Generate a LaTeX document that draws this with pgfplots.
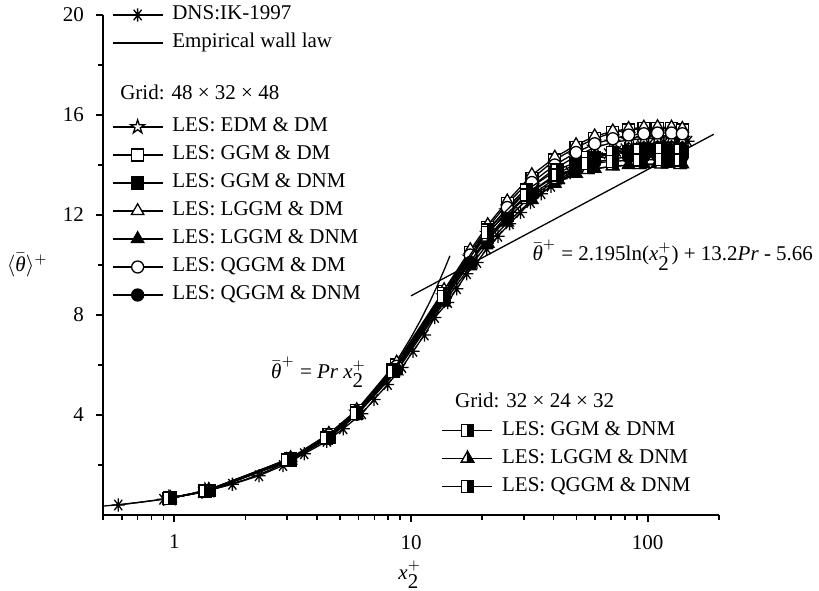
\documentclass[border=0pt]{standalone}
\usepackage{fontspec}
\setmainfont{Liberation Serif}
\usepackage{pgfplots}
\pgfplotsset{compat=1.18}
\usetikzlibrary{plotmarks}

\pgfdeclareplotmark{ast8}{%
 \pgfpathmoveto{\pgfqpoint{0pt}{\pgfplotmarksize}}\pgfpathlineto{\pgfqpoint{0pt}{-\pgfplotmarksize}}%
 \pgfpathmoveto{\pgfqpoint{.6\pgfplotmarksize}{.8\pgfplotmarksize}}\pgfpathlineto{\pgfqpoint{-.6\pgfplotmarksize}{-.8\pgfplotmarksize}}%
 \pgfpathmoveto{\pgfqpoint{-.6\pgfplotmarksize}{.8\pgfplotmarksize}}\pgfpathlineto{\pgfqpoint{.6\pgfplotmarksize}{-.8\pgfplotmarksize}}%
 \pgfpathmoveto{\pgfqpoint{-\pgfplotmarksize}{0pt}}\pgfpathlineto{\pgfqpoint{\pgfplotmarksize}{0pt}}%
 \pgfusepathqstroke}
\pgfdeclareplotmark{ostar}{%
 \pgfsetfillcolor{white}%
 \pgfpathmoveto{\pgfqpoint{0pt}{\pgfplotmarksize}}%
 \pgfpathlineto{\pgfqpoint{-.2245\pgfplotmarksize}{.309\pgfplotmarksize}}%
 \pgfpathlineto{\pgfqpoint{-.951\pgfplotmarksize}{.309\pgfplotmarksize}}%
 \pgfpathlineto{\pgfqpoint{-.363\pgfplotmarksize}{-.118\pgfplotmarksize}}%
 \pgfpathlineto{\pgfqpoint{-.588\pgfplotmarksize}{-.809\pgfplotmarksize}}%
 \pgfpathlineto{\pgfqpoint{0pt}{-.382\pgfplotmarksize}}%
 \pgfpathlineto{\pgfqpoint{.588\pgfplotmarksize}{-.809\pgfplotmarksize}}%
 \pgfpathlineto{\pgfqpoint{.363\pgfplotmarksize}{-.118\pgfplotmarksize}}%
 \pgfpathlineto{\pgfqpoint{.951\pgfplotmarksize}{.309\pgfplotmarksize}}%
 \pgfpathlineto{\pgfqpoint{.2245\pgfplotmarksize}{.309\pgfplotmarksize}}%
 \pgfpathclose\pgfusepath{fill,stroke}}
\pgfdeclareplotmark{halfsq}{%
 \pgfsetfillcolor{white}%
 \pgfpathrectangle{\pgfqpoint{-\pgfplotmarksize}{-\pgfplotmarksize}}{\pgfqpoint{2\pgfplotmarksize}{2\pgfplotmarksize}}%
 \pgfusepath{fill,stroke}%
 \pgfsetfillcolor{black}%
 \pgfpathrectangle{\pgfqpoint{0pt}{-\pgfplotmarksize}}{\pgfqpoint{\pgfplotmarksize}{2\pgfplotmarksize}}%
 \pgfusepath{fill,stroke}}
\pgfdeclareplotmark{halftri}{%
 \pgfsetfillcolor{white}%
 \pgfpathmoveto{\pgfqpoint{0pt}{\pgfplotmarksize}}%
 \pgfpathlineto{\pgfqpoint{-.866\pgfplotmarksize}{-.5\pgfplotmarksize}}%
 \pgfpathlineto{\pgfqpoint{.866\pgfplotmarksize}{-.5\pgfplotmarksize}}%
 \pgfpathclose\pgfusepath{fill,stroke}%
 \pgfsetfillcolor{black}%
 \pgfpathmoveto{\pgfqpoint{0pt}{\pgfplotmarksize}}%
 \pgfpathlineto{\pgfqpoint{0pt}{-.5\pgfplotmarksize}}%
 \pgfpathlineto{\pgfqpoint{.866\pgfplotmarksize}{-.5\pgfplotmarksize}}%
 \pgfpathclose\pgfusepath{fill,stroke}}

\tikzset{myser/.style={black, line width=0.65bp, mark options={solid, line width=0.65bp}}}

\begin{document}
\begin{tikzpicture}[font=\fontsize{10.5bp}{12.6bp}\selectfont]
\useasboundingbox (-51.5bp,-38bp) rectangle (358bp,257.5bp);
\begin{axis}[at={(0,0)}, anchor=south west, scale only axis, width=308bp, height=250bp,
  xmode=log, xmin=0.5, xmax=200, ymin=0, ymax=20, clip=false,
  legend cell align=left,
  legend image code/.code={\draw[mark repeat=2,mark phase=2] plot coordinates {(0bp,0bp)(12.5bp,0bp)(25bp,0bp)};},
  legend style={draw=none, fill=none, inner sep=0pt, outer sep=0pt, row sep=4bp,
     nodes={inner sep=0pt, text height=7.5bp, text depth=2.5bp},
     /tikz/every odd column/.append style={column sep=4.5bp},
     font=\fontsize{10.5bp}{12.6bp}\selectfont,
     at={(axis description cs:0.0146,1.02)}, anchor=north west},
  axis x line*=bottom, axis y line*=left,
  axis line style={-, line width=0.8bp},
  tick align=outside, major tick length=3.5bp, minor tick length=2.5bp,
  tick style={line width=0.8bp, black},
  xtick={1,10,100}, xticklabels={1,10,100},
  minor xtick={0.5,0.6,0.7,0.8,0.9,2,3,4,5,6,7,8,9,20,30,40,50,60,70,80,90,200},
  ytick={4,8,12,16,20}, yticklabels={4,8,12,16,20},
  minor ytick={2,6,10,14,18},
  xticklabel style={yshift=-3bp},
  yticklabel style={xshift=-2.5bp},
  /pgf/number format/assume math mode=true,
  xlabel={$\textit{x}_{\textrm{2}}^{+}$},
  ylabel={$\langle\bar{\textit{θ}}\rangle^{+}$},
  every axis x label/.style={at={(axis description cs:0.498,-0.12)}, anchor=center},
  every axis y label/.style={at={(axis description cs:-0.123,0.5)}, anchor=center},
]
\addplot[myser, mark=ast8, mark size=3.3bp] coordinates {
(0.58,0.40)(0.90,0.63)(1.31,0.91)(1.76,1.23)(2.28,1.57)(2.88,1.98)(3.54,2.45)(4.41,2.95)(5.17,3.45)(6.2,4.05)(6.98,4.62)(7.97,5.22)(9.16,5.9)(10.2,6.55)(11.4,7.2)(12.6,7.9)(14.3,8.5)(15.6,9.05)(17.2,9.65)(19.0,10.1)(20.9,10.65)(23.3,11.15)(26.1,11.65)(29.0,12.1)(32,12.5)(35.5,12.85)(39,13.15)(43,13.45)(47,13.7)(52,13.95)(57,14.15)(62,14.3)(68,14.45)(74,14.55)(80,14.65)(87,14.72)(94,14.78)(101,14.83)(109,14.87)(117,14.9)(125,14.92)(133,14.94)(141,14.95)(148,14.95)};
\addlegendentry{DNS:IK-1997}
\addplot[myser, no marks] coordinates {
(0.5,0.355)(0.6,0.426)(0.7,0.497)(0.8,0.568)(0.9,0.639)(1,0.71)(1.2,0.852)(1.5,1.065)(2,1.42)(2.5,1.775)(3,2.13)(4,2.84)(5,3.55)(6,4.26)(7,4.97)(8,5.68)(9,6.39)(10,7.1)(11,7.81)(12,8.52)(13,9.23)(14,9.94)(14.6,10.366)};
\addlegendentry{Empirical wall law}
\addplot[myser, no marks, forget plot] coordinates {(10,8.766)(190,15.228)};
\addlegendimage{empty legend}\addlegendentry{\phantom{X}}
\addlegendimage{empty legend}\addlegendentry{\hspace*{-26bp}\raisebox{2bp}{Grid: 48 × 32 × 48}}
% 48 grid
\addplot[myser, mark=ostar, mark size=3.6bp] coordinates {
(0.96,0.67)(1.4,0.98)(3.1,2.22)(4.5,3.17)(5.9,4.10)(8.7,5.90)(13.8,8.75)(17.8,10.30)(21.1,11.25)(25.5,12.15)(32.4,13.15)(40.5,13.85)(49.8,14.35)(59.7,14.70)(71.2,14.90)(83,15.00)(96.3,15.05)(110,15.08)(126,15.08)(140,15.05)};
\addlegendentry{LES: EDM \& DM}
\addplot[myser, mark=square*, mark size=3bp, mark options={fill=white}] coordinates {
(0.96,0.68)(1.4,0.99)(3.1,2.25)(4.5,3.22)(5.9,4.17)(8.7,6.00)(13.8,8.95)(17.8,10.50)(21.1,11.50)(25.5,12.45)(32.4,13.45)(40.5,14.20)(49.8,14.70)(59.7,15.05)(71.2,15.30)(83,15.40)(96.3,15.45)(110,15.45)(126,15.45)(140,15.40)};
\addlegendentry{LES: GGM \& DM}
\addplot[myser, mark=square*, mark size=3bp, mark options={fill=black}] coordinates {
(0.96,0.67)(1.4,0.97)(3.1,2.20)(4.5,3.12)(5.9,4.06)(8.7,5.85)(13.8,8.70)(17.8,10.20)(21.1,11.10)(25.5,12.00)(32.4,12.95)(40.5,13.60)(49.8,14.05)(59.7,14.30)(71.2,14.45)(83,14.52)(96.3,14.55)(110,14.57)(126,14.57)(140,14.55)};
\addlegendentry{LES: GGM \& DNM}
\addplot[myser, mark=triangle*, mark size=3.6bp, mark options={fill=white}] coordinates {
(0.96,0.68)(1.4,1.00)(3.1,2.28)(4.5,3.25)(5.9,4.20)(8.7,6.10)(13.8,9.00)(17.8,10.60)(21.1,11.60)(25.5,12.55)(32.4,13.60)(40.5,14.30)(49.8,14.80)(59.7,15.15)(71.2,15.35)(83,15.45)(96.3,15.50)(110,15.52)(126,15.50)(140,15.45)};
\addlegendentry{LES: LGGM \& DM}
\addplot[myser, mark=triangle*, mark size=3.6bp, mark options={fill=black}] coordinates {
(0.96,0.67)(1.4,0.97)(3.1,2.18)(4.5,3.08)(5.9,4.00)(8.7,5.75)(13.8,8.50)(17.8,9.95)(21.1,10.85)(25.5,11.70)(32.4,12.60)(40.5,13.25)(49.8,13.65)(59.7,13.85)(71.2,13.95)(83,14.00)(96.3,14.03)(110,14.05)(126,14.05)(140,14.03)};
\addlegendentry{LES: LGGM \& DNM}
\addplot[myser, mark=*, mark size=3bp, mark options={fill=white}] coordinates {
(0.96,0.67)(1.4,0.98)(3.1,2.24)(4.5,3.20)(5.9,4.14)(8.7,5.95)(13.8,8.85)(17.8,10.40)(21.1,11.35)(25.5,12.30)(32.4,13.30)(40.5,14.00)(49.8,14.50)(59.7,14.85)(71.2,15.05)(83,15.20)(96.3,15.25)(110,15.28)(126,15.28)(140,15.25)};
\addlegendentry{LES: QGGM \& DM}
\addplot[myser, mark=*, mark size=3bp, mark options={fill=black}] coordinates {
(0.96,0.67)(1.4,0.97)(3.1,2.19)(4.5,3.10)(5.9,4.03)(8.7,5.80)(13.8,8.60)(17.8,10.10)(21.1,11.00)(25.5,11.85)(32.4,12.80)(40.5,13.45)(49.8,13.85)(59.7,14.10)(71.2,14.25)(83,14.32)(96.3,14.35)(110,14.37)(126,14.37)(140,14.35)};
\addlegendentry{LES: QGGM \& DNM}
\node[anchor=center] at (axis description cs:0.350,0.285) {$\bar{\textit{θ}}^{+}$ = \textit{Pr} $\textit{x}_{\textrm{2}}^{+}$};
\node[anchor=center] at (axis description cs:0.925,0.52) {$\bar{\textit{θ}}^{+}$ = 2.195ln($\textit{x}_{\textrm{2}}^{+}$) + 13.2\textit{Pr} - 5.66};
\end{axis}
\begin{axis}[at={(0,0)}, anchor=south west, scale only axis, width=308bp, height=250bp,
  xmode=log, xmin=0.5, xmax=200, ymin=0, ymax=20, hide axis,
  legend cell align=left,
  legend image code/.code={\draw[mark repeat=2,mark phase=2] plot coordinates {(0bp,0bp)(12.5bp,0bp)(25bp,0bp)};},
  legend style={draw=none, fill=none, inner sep=0pt, outer sep=0pt, row sep=4bp,
     nodes={inner sep=0pt, text height=7.5bp, text depth=2.5bp},
     /tikz/every odd column/.append style={column sep=4.5bp},
     font=\fontsize{10.5bp}{12.6bp}\selectfont,
     at={(axis description cs:0.550,0.245)}, anchor=north west},
]
\addlegendimage{empty legend}\addlegendentry{\hspace*{-23.5bp}Grid: 32 × 24 × 32}
\addplot[myser, mark=halfsq, mark size=3bp] coordinates {
(0.95,0.66)(1.35,0.96)(3.0,2.20)(4.4,3.10)(5.9,4.10)(8.4,5.80)(13.7,8.85)(21,11.40)(30.8,13.00)(41.4,13.80)(55.8,14.30)(71,14.50)(92.3,14.60)(114,14.62)(137,14.60)};
\addlegendentry{LES: GGM \& DNM}
\addplot[myser, mark=halftri, mark size=3.6bp] coordinates {
(0.95,0.66)(1.35,0.96)(3.0,2.18)(4.4,3.05)(5.9,4.00)(8.4,5.70)(13.7,8.60)(21,11.10)(30.8,12.60)(41.4,13.40)(55.8,13.80)(71,13.95)(92.3,14.00)(114,14.02)(137,14.00)};
\addlegendentry{LES: LGGM \& DNM}
\addplot[myser, mark=halfsq, mark size=3bp] coordinates {
(0.95,0.66)(1.35,0.96)(3.0,2.20)(4.4,3.08)(5.9,4.05)(8.4,5.75)(13.7,8.75)(21,11.30)(30.8,12.80)(41.4,13.60)(55.8,14.05)(71,14.15)(92.3,14.20)(114,14.22)(137,14.20)};
\addlegendentry{LES: QGGM \& DNM}
\end{axis}
\end{tikzpicture}
\end{document}
